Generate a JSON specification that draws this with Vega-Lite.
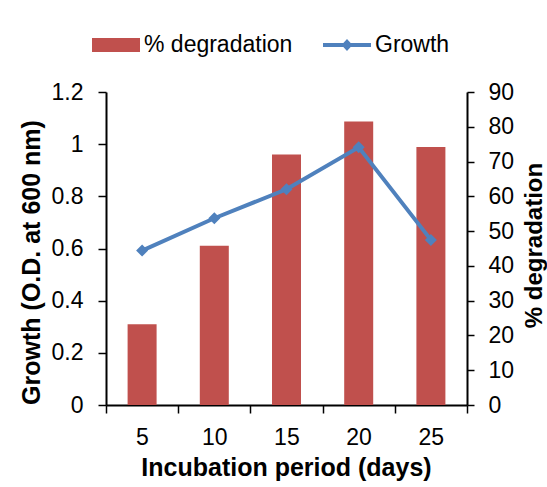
{
  "$schema": "https://vega.github.io/schema/vega-lite/v6.json",
  "width": 361,
  "height": 313,
  "autosize": {"type": "none"},
  "padding": {"left": 106, "top": 92, "right": 80, "bottom": 82},
  "background": "white",
  "config": {
    "font": "Liberation Sans",
    "view": {"stroke": null},
    "axis": {
      "labelFont": "Liberation Sans",
      "titleFont": "Liberation Sans",
      "labelColor": "black",
      "titleColor": "black",
      "domainColor": "black",
      "tickColor": "black",
      "labelFontSize": 23,
      "titleFontSize": 25,
      "titleFontWeight": "bold",
      "grid": false,
      "domainWidth": 2,
      "tickWidth": 1.5,
      "tickSize": 8
    }
  },
  "data": {
    "values": [
      {"day": 5, "growth": 0.592, "degradation": 23.2},
      {"day": 10, "growth": 0.716, "degradation": 45.8},
      {"day": 15, "growth": 0.827, "degradation": 72.0},
      {"day": 20, "growth": 0.988, "degradation": 81.5},
      {"day": 25, "growth": 0.633, "degradation": 74.2}
    ]
  },
  "layer": [
    {
      "mark": {"type": "bar", "color": "#C0504D", "width": 29},
      "encoding": {
        "x": {
          "field": "day",
          "type": "quantitative",
          "scale": {"domain": [2.5, 27.5], "nice": false, "zero": false, "padding": 0},
          "axis": {
            "title": "Incubation period (days)",
            "values": [2.5, 7.5, 12.5, 17.5, 22.5, 27.5],
            "labelExpr": "datum.value < 27 ? format(datum.value + 2.5, 'd') : ''",
            "labelAngle": 0,
            "labelOffset": 36,
            "labelFlush": false,
            "labelOverlap": false,
            "labelPadding": 13,
            "titleX": 180,
            "titleY": 62,
            "titleBaseline": "middle",
            "titleAlign": "center"
          }
        },
        "y": {
          "field": "degradation",
          "type": "quantitative",
          "scale": {"domain": [0, 90]},
          "axis": {
            "orient": "right",
            "title": "% degradation",
            "values": [0, 10, 20, 30, 40, 50, 60, 70, 80, 90],
            "labelPadding": 14,
            "tickSize": 7,
            "titleAngle": 270,
            "titleFontSize": 24,
            "titleX": 67,
            "titleY": 153,
            "titleBaseline": "middle",
            "titleAlign": "center"
          }
        }
      }
    },
    {
      "encoding": {
        "x": {"field": "day", "type": "quantitative"},
        "y": {
          "field": "growth",
          "type": "quantitative",
          "scale": {"domain": [0, 1.2]},
          "axis": {
            "orient": "left",
            "title": "Growth (O.D. at 600 nm)",
            "values": [0, 0.2, 0.4, 0.6, 0.8, 1, 1.2],
            "format": "~g",
            "labelPadding": 15,
            "titleAngle": 270,
            "titleX": -75,
            "titleY": 170,
            "titleBaseline": "middle",
            "titleAlign": "center"
          }
        }
      },
      "layer": [
        {"mark": {"type": "line", "color": "#4F81BD", "strokeWidth": 4}},
        {"mark": {"type": "point", "shape": "diamond", "filled": true, "size": 144, "color": "#4F81BD", "opacity": 1}}
      ]
    },
    {
      "transform": [{"filter": "false"}],
      "mark": {"type": "point", "filled": true},
      "encoding": {
        "color": {
          "datum": "Growth",
          "scale": {"domain": ["% degradation", "Growth"], "range": ["#C0504D", "#4F81BD"]},
          "legend": {
            "orient": "none",
            "legendX": -14,
            "legendY": -71,
            "direction": "horizontal",
            "title": null,
            "labelFont": "Liberation Sans",
            "labelFontSize": 23,
            "labelColor": "black",
            "symbolSize": 2304,
            "symbolStrokeWidth": 0,
            "symbolOpacity": 1,
            "columnPadding": 30,
            "labelOffset": 4,
            "padding": 0
          }
        },
        "shape": {
          "datum": "Growth",
          "scale": {
            "domain": ["% degradation", "Growth"],
            "range": ["M-1,-0.29H1V0.29H-1Z", "M-1,-0.085H1V0.085H-1Z M0,-0.25L0.23,0L0,0.25L-0.23,0Z"]
          },
          "legend": {
            "orient": "none",
            "legendX": -14,
            "legendY": -71,
            "direction": "horizontal",
            "title": null,
            "labelFont": "Liberation Sans",
            "labelFontSize": 23,
            "labelColor": "black",
            "symbolSize": 2304,
            "symbolStrokeWidth": 0,
            "symbolOpacity": 1,
            "columnPadding": 30,
            "labelOffset": 4,
            "padding": 0
          }
        }
      }
    }
  ],
  "resolve": {"scale": {"y": "independent"}}
}
